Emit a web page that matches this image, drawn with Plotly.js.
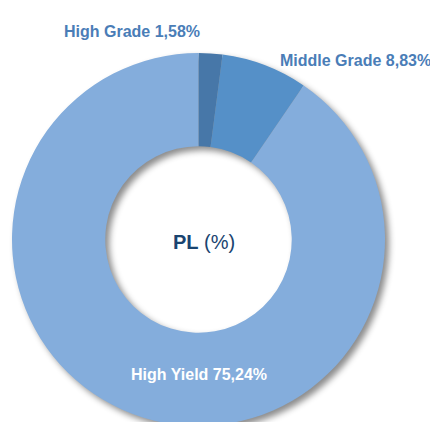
<!DOCTYPE html>
<html>
<head>
<meta charset="utf-8">
<script src="https://cdn.plot.ly/plotly-3.0.1.min.js"></script>
<style>
html, body { margin: 0; padding: 0; background: #ffffff; overflow: hidden; }
#chart { width: 430px; height: 426px; }
.pielayer .trace { filter: drop-shadow(4px 4px 3px rgba(0,0,0,0.45)); }
</style>
</head>
<body>
<div id="chart"></div>
<script>
// Categories and printed percentages
const categories = ["High Grade", "Middle Grade", "High Yield"];
const printedPct = ["1,58%", "8,83%", "75,24%"];
// Slice shares as drawn in the picture (measured angles, % of the circle)
const shares = [2.06, 7.47, 90.47];
const sliceColors = ["#4777a8", "#5590c8", "#84addc"];
const centerTitle = "<b>PL</b> (%)";

const labelText = categories.map((c, i) => "<b>" + c + " " + printedPct[i] + "</b>");

const data = [{
  type: "pie",
  labels: categories,
  values: shares,
  hole: 0.5,
  sort: false,
  direction: "clockwise",
  rotation: 0,
  textinfo: "none",
  hoverinfo: "none",
  marker: { colors: sliceColors, line: { width: 0 } },
  domain: { x: [0, 1], y: [0, 1] },
  showlegend: false
}];

const font = "Liberation Sans, Arial, sans-serif";
const layout = {
  width: 430,
  height: 426,
  margin: { l: 12, r: 45, t: 53, b: 0, pad: 0 },
  paper_bgcolor: "#ffffff",
  plot_bgcolor: "#ffffff",
  showlegend: false,
  annotations: [
    { text: labelText[0], xref: "paper", yref: "paper", x: 0.323, y: 1.0576,
      xanchor: "center", yanchor: "middle", showarrow: false,
      font: { family: font, size: 16, color: "#4a7db7" } },
    { text: labelText[1], xref: "paper", yref: "paper", x: 0.9196, y: 0.981,
      xanchor: "center", yanchor: "middle", showarrow: false,
      font: { family: font, size: 16, color: "#4a7db7" } },
    { text: labelText[2], xref: "paper", yref: "paper", x: 0.5013, y: 0.1386,
      xanchor: "center", yanchor: "middle", showarrow: false,
      font: { family: font, size: 16, color: "#ffffff" } },
    { text: centerTitle, xref: "paper", yref: "paper", x: 0.514, y: 0.493,
      xanchor: "center", yanchor: "middle", showarrow: false,
      font: { family: font, size: 20, color: "#1a4470" } }
  ]
};

Plotly.newPlot("chart", data, layout, { displayModeBar: false, staticPlot: true });
</script>
</body>
</html>
